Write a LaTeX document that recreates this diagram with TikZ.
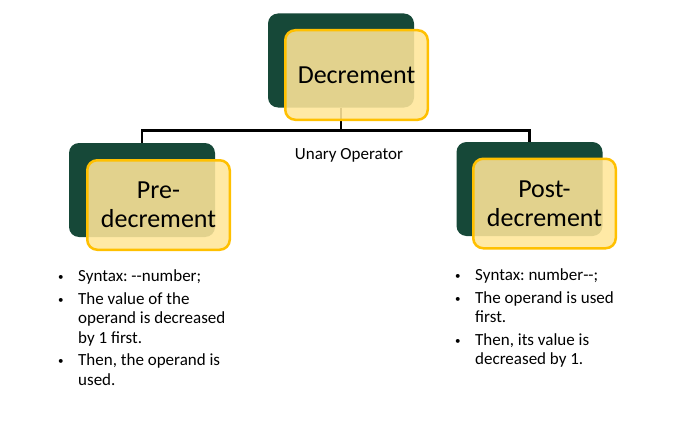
\documentclass[tikz,border=0pt]{standalone}
\usepackage{fontspec}
\setmainfont{Carlito}
\frenchspacing
\definecolor{deepgreen}{RGB}{22,72,56}
\definecolor{goldline}{RGB}{255,192,0}
\definecolor{paleyellow}{RGB}{255,230,153}
% small bullet hung in the left margin of a note line
\newcommand\itm{\leavevmode\llap{\makebox[20pt][l]{\raisebox{1pt}{\fontsize{11}{11}\selectfont\textbullet}}}}
\tikzset{
  shadowbox/.style={fill=deepgreen, rounded corners=10pt, minimum width=146pt,
    minimum height=94pt, inner sep=0pt},
  termbox/.style={draw=goldline, line width=2.5pt, fill=paleyellow, fill opacity=0.88,
    text opacity=1, rounded corners=10pt, minimum width=142.5pt, minimum height=89.5pt,
    inner sep=0pt, align=center, font=\fontsize{26}{29}\selectfont},
  link/.style={draw=black, line width=2.2pt},
  notes/.style={align=left, anchor=north west, inner sep=0pt,
    font=\fontsize{17}{19.5}\selectfont},
}
\begin{document}
\begin{tikzpicture}[x=1pt, y=-1pt]
  \fill[white] (0,0) rectangle (691,428);
  \useasboundingbox (0,0) rectangle (691,428);

  % dark backing cards
  \node[shadowbox] (topd)   at (341,60.5) {};
  \node[shadowbox] (leftd)  at (142,190) {};
  \node[shadowbox] (rightd) at (529.5,189) {};

  % tree connectors
  \coordinate (bus) at (341,130.5);
  \draw[link] (topd.south) -- (bus);
  \draw[link] (bus) -| (leftd.north);
  \draw[link] (bus) -| (rightd.north);

  % labelled cards
  \node[termbox] (top)   at (356.5,75)    {Decrement};
  \node[termbox] (pre)   at (158.5,205)   {Pre-\\decrement};
  \node[termbox] (post)  at (544.5,203.5) {Post-\\decrement};

  \node[anchor=base, inner sep=0pt, font=\fontsize{17}{20}\selectfont] (unary)
    at (349,159) {Unary Operator};

  % notes under each card
  \node[notes] (prenotes) at (78,268) {\strut\itm Syntax: \mbox{-}\mbox{-}number;\\[3pt]
    \itm The value of the\\ operand is decreased\\ by 1 first.\\[3pt]
    \itm Then, the operand is\\ used.};
  \node[notes] (postnotes) at (475,267) {\strut\itm Syntax: number\mbox{-}\mbox{-};\\[3pt]
    \itm The operand is used\\ first.\\[3pt]
    \itm Then, its value is\\ decreased by 1.};
\end{tikzpicture}
\end{document}
